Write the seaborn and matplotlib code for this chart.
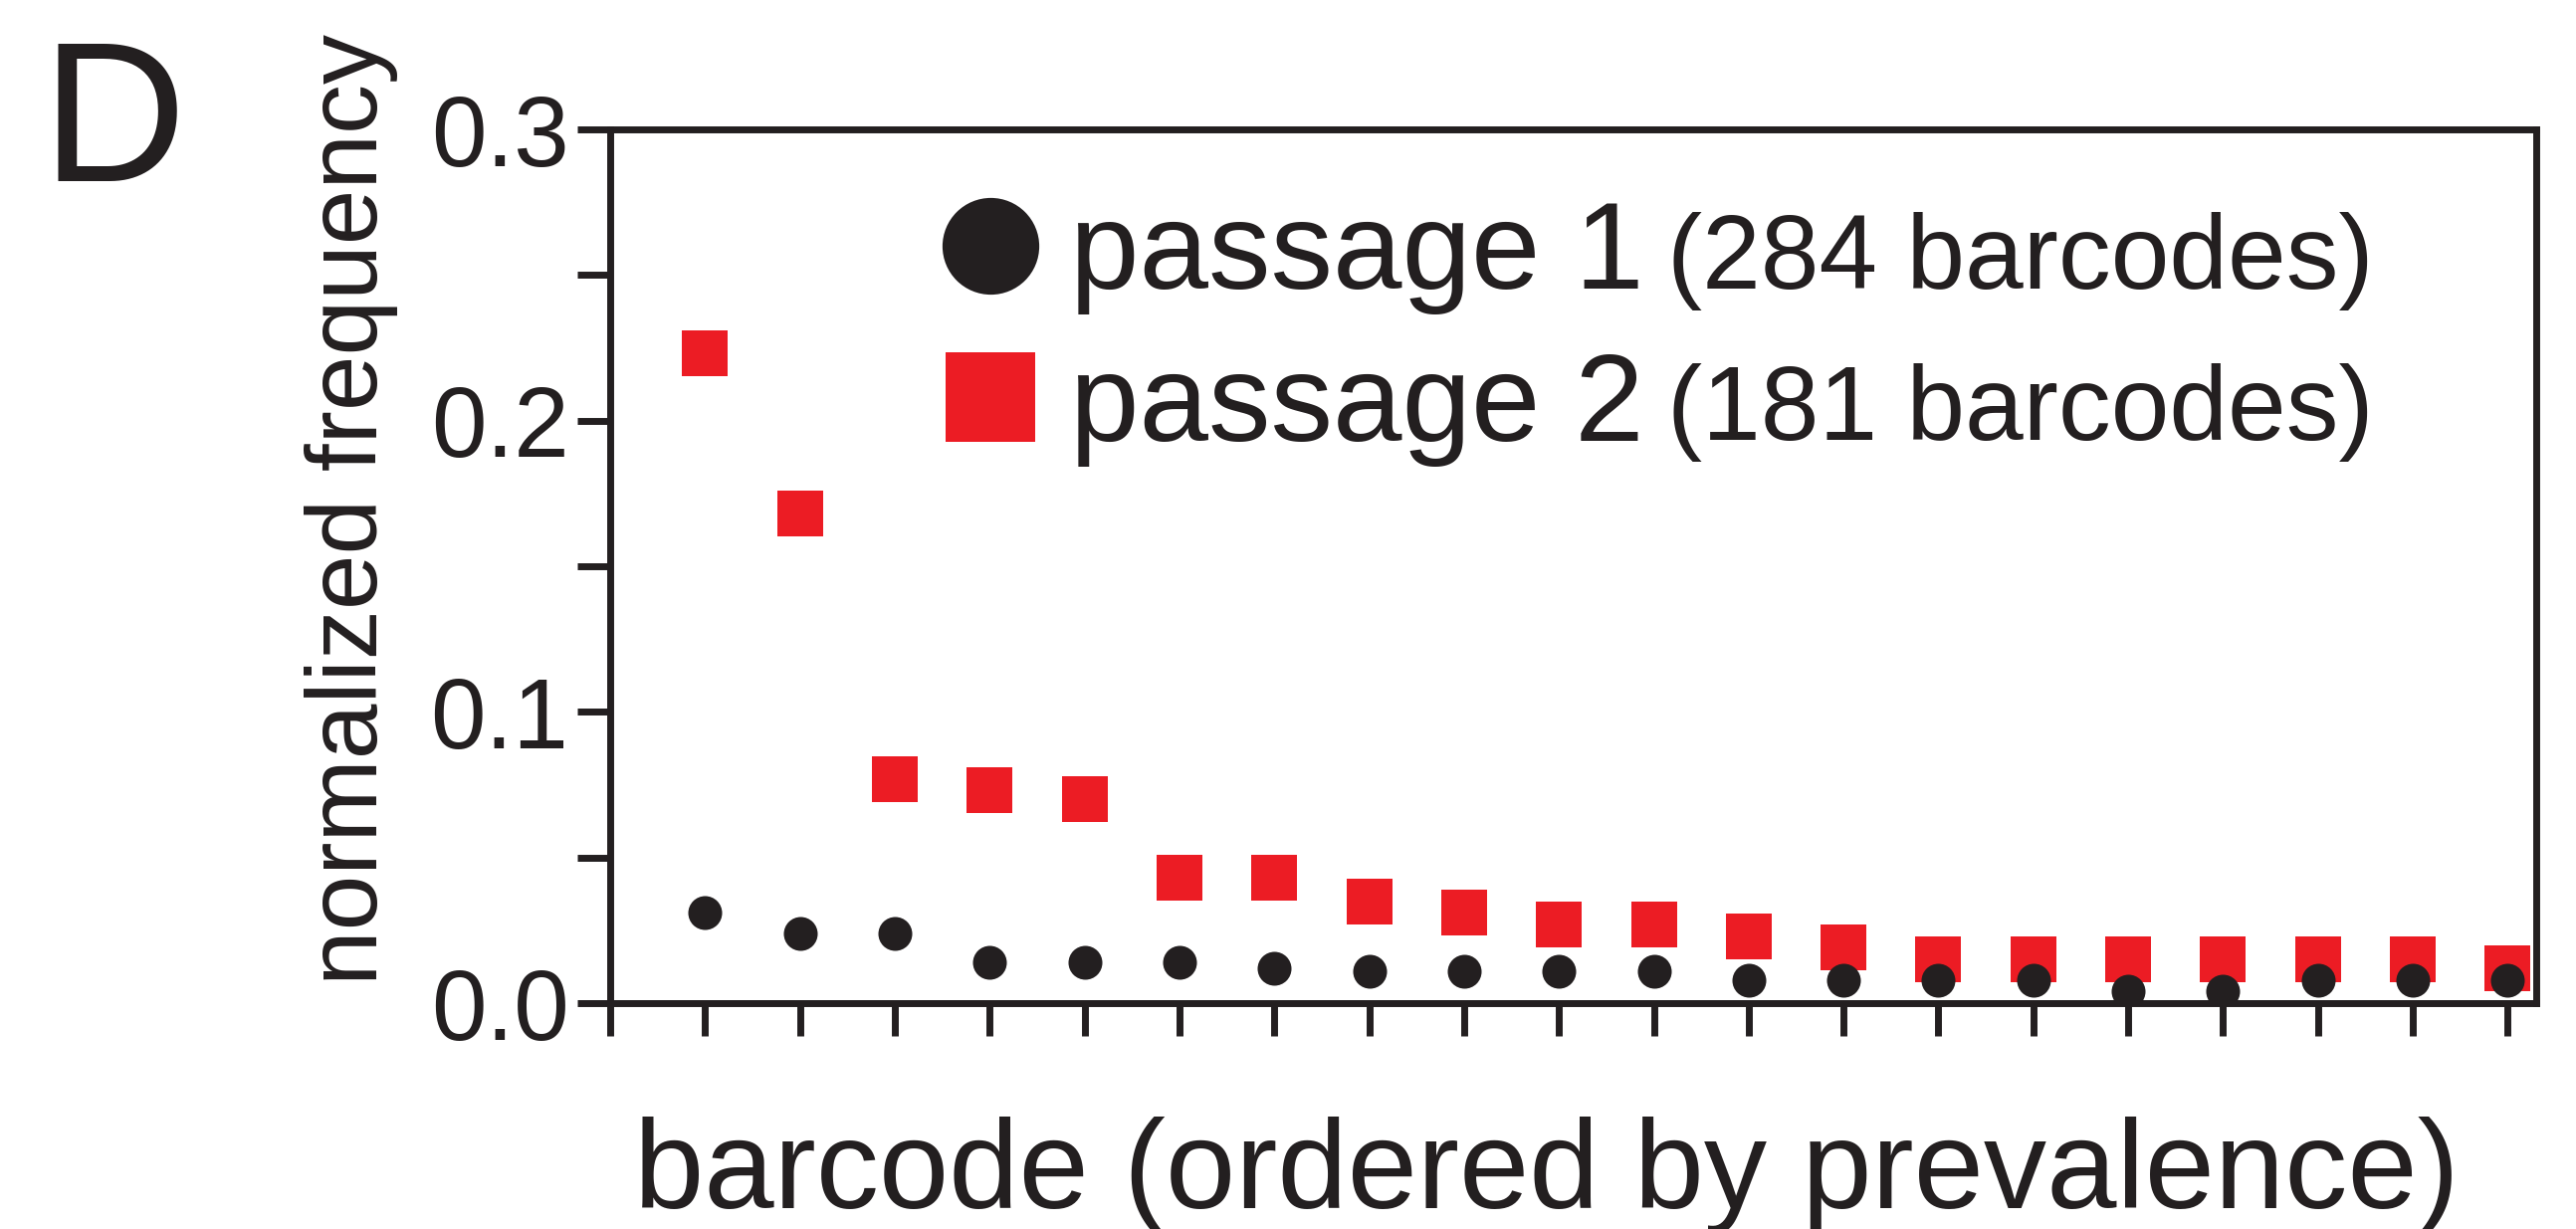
import matplotlib
matplotlib.use("Agg")
import matplotlib.pyplot as plt
from matplotlib.lines import Line2D
from matplotlib.ticker import MultipleLocator
import numpy as np
import pandas as pd
import seaborn as sns

# ---- data ----
barcode_rank = list(range(1, 21))
passage1_freq = [0.031, 0.024, 0.024, 0.014, 0.014, 0.014, 0.012, 0.011, 0.011, 0.011,
                 0.011, 0.008, 0.008, 0.008, 0.008, 0.004, 0.004, 0.008, 0.008, 0.008]
passage2_freq = [0.223, 0.168, 0.077, 0.073, 0.070, 0.043, 0.043, 0.035, 0.031, 0.027,
                 0.027, 0.023, 0.019, 0.015, 0.015, 0.015, 0.015, 0.015, 0.015, 0.012]
series_names = ["passage 1", "passage 2"]
series_counts = ["(284 barcodes)", "(181 barcodes)"]
y_ticks = [0.0, 0.1, 0.2, 0.3]
y_tick_labels = ["0.0", "0.1", "0.2", "0.3"]
x_label = "barcode (ordered by prevalence)"
y_label = "normalized frequency"
panel_letter = "D"

RED = "#EC1C24"
BLACK = "#231F20"

sns.set_theme(style="ticks")
plt.rcParams["font.family"] = ["Liberation Sans", "DejaVu Sans"]

df1 = pd.DataFrame({"barcode": barcode_rank, "frequency": passage1_freq})
df2 = pd.DataFrame({"barcode": barcode_rank, "frequency": passage2_freq})

fig = plt.figure(figsize=(25.88, 12.35), dpi=100)
ax = fig.add_axes([0.2369, 0.1838, 0.9845 - 0.2369, 0.8947 - 0.1838])

sns.scatterplot(data=df2, x="barcode", y="frequency", marker="s", s=32.5 ** 2,
                color=RED, linewidth=0, ax=ax, zorder=3)
sns.scatterplot(data=df1, x="barcode", y="frequency", marker="o", s=24.5 ** 2,
                color=BLACK, linewidth=0, ax=ax, zorder=4)

ax.set_xlim(0, 20.3)
ax.set_ylim(0, 0.3)
ax.set_xticks(range(0, 21))
ax.set_xticklabels([])
ax.set_yticks(y_ticks)
ax.set_yticklabels(y_tick_labels)
ax.yaxis.set_minor_locator(MultipleLocator(0.05))

for side in ["left", "right", "top", "bottom"]:
    ax.spines[side].set_visible(True)
    ax.spines[side].set_linewidth(5)
    ax.spines[side].set_color(BLACK)

ax.tick_params(axis="both", which="both", direction="out", width=5, length=24,
               color=BLACK, labelcolor=BLACK)
ax.tick_params(axis="y", which="major", labelsize=72, pad=6)
ax.tick_params(top=False, right=False)

ax.set_xlabel(x_label, fontsize=91, color=BLACK)
ax.set_ylabel(y_label, fontsize=72, color=BLACK)
ax.xaxis.set_label_coords(0.486, -0.13)
ax.yaxis.set_label_coords(-0.110, 0.565)

handles = [
    Line2D([], [], linestyle="none", marker="o", markersize=70, color=BLACK, markeredgewidth=0),
    Line2D([], [], linestyle="none", marker="s", markersize=65, color=RED, markeredgewidth=0),
]
leg = ax.legend(handles=handles, labels=series_names, loc="upper left",
                bbox_to_anchor=(0.165, 0.92), frameon=False, fontsize=90,
                borderpad=0, borderaxespad=0, handlelength=1.0, handletextpad=0.14,
                labelspacing=0.29)
for t in leg.get_texts():
    t.set_color(BLACK)

for t, extra in zip(leg.get_texts(), series_counts):
    ax.annotate(extra, xy=(1, 0), xycoords=t, xytext=(17, 19), textcoords="offset points",
                fontsize=76, color=BLACK, ha="left", va="baseline", zorder=10)

fig.text(0.016, 0.853, panel_letter, fontsize=145, color=BLACK, ha="left", va="baseline")

fig.savefig("out.png", dpi=100, facecolor="white")
